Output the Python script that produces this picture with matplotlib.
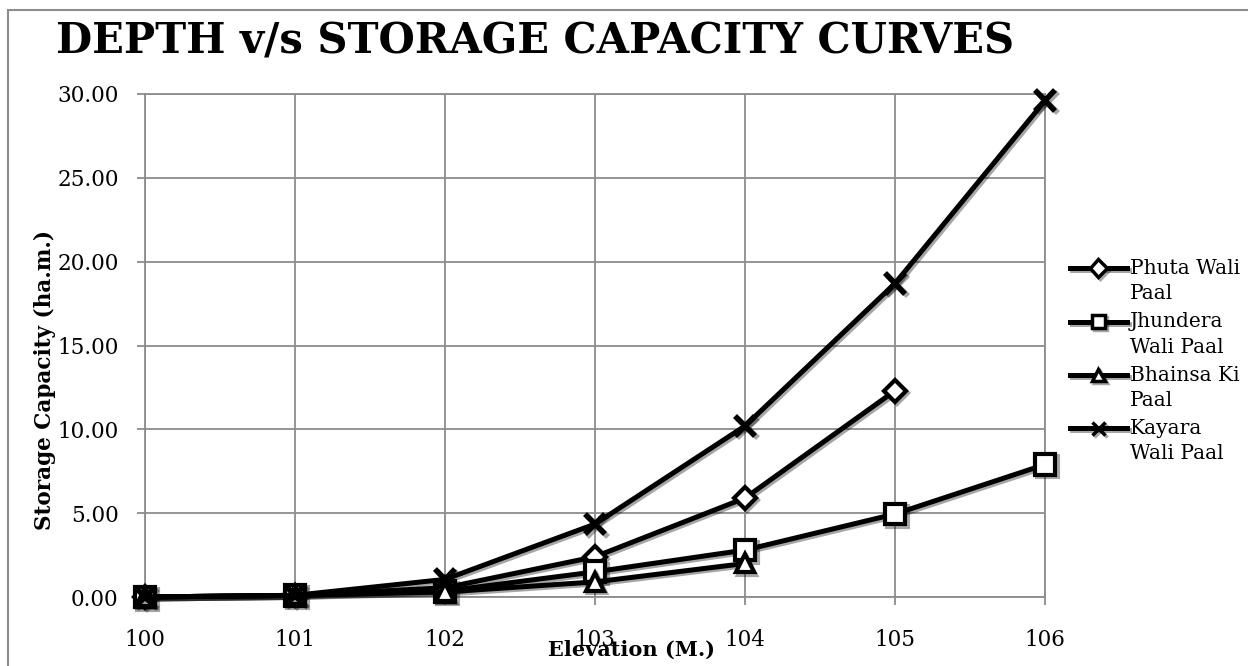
import numpy as np
import matplotlib
matplotlib.use("Agg")
import matplotlib.pyplot as plt
import matplotlib.patheffects as pe
from matplotlib.patches import Rectangle
from matplotlib.ticker import FormatStrFormatter
from matplotlib.legend_handler import HandlerLine2D

elevation = [100, 101, 102, 103, 104, 105, 106]
phuta = [0.0, 0.1, 0.55, 2.4, 5.9, 12.3]
jhundera = [0.0, 0.1, 0.35, 1.5, 2.8, 4.95, 7.9]
bhainsa = [0.0, 0.1, 0.3, 0.9, 2.0]
kayara = [0.0, 0.1, 1.05, 4.35, 10.2, 18.7, 29.6]

series = [
    ("Phuta Wali\nPaal", phuta, "D", 11),
    ("Jhundera\nWali Paal", jhundera, "s", 15),
    ("Bhainsa Ki\nPaal", bhainsa, "^", 13),
    ("Kayara\nWali Paal", kayara, "x", 15),
]


# legend handle sits on the first text line, not in the middle
class TopHandler(HandlerLine2D):
    def create_artists(self, legend, orig_handle, xdescent, ydescent,
                       width, height, fontsize, trans):
        arts = super().create_artists(legend, orig_handle, xdescent, ydescent,
                                      width, height, fontsize, trans)
        for a in arts:
            a.set_ydata(np.asarray(a.get_ydata()) + 0.66 * fontsize)
        return arts


plt.rcParams['font.family'] = ['DejaVu Serif']

fig = plt.figure(figsize=(12.48, 6.66), dpi=100)
ax = fig.add_axes([145/1248, 1 - 597/666, 900/1248, 503/666])

shadow = [pe.SimpleLineShadow(offset=(1.5, -1.5), alpha=0.35), pe.Normal()]
lines = []
for label, vals, mk, ms in series:
    x = elevation[:len(vals)]
    mew = 4 if mk == "x" else 3
    ln, = ax.plot(x, vals, color="black", linewidth=3.6, marker=mk, markersize=ms,
                  markerfacecolor="white", markeredgecolor="black", markeredgewidth=mew,
                  label=label, path_effects=shadow, clip_on=False, zorder=3)
    lines.append(ln)

ax.set_xlim(100, 106)
ax.set_ylim(0, 30)
ax.set_xticks(elevation)
ax.set_yticks(np.arange(0, 31, 5))
ax.yaxis.set_major_formatter(FormatStrFormatter('%.2f'))
ax.grid(True, color="#8c8c8c", linewidth=1.3)
ax.set_axisbelow(True)
for s in ax.spines.values():
    s.set_color("#8c8c8c")
    s.set_linewidth(1.3)
ax.tick_params(axis="both", length=6, width=1.3, color="#8c8c8c", labelsize=15.5)
ax.tick_params(axis="x", pad=17)
ax.tick_params(axis="y", pad=13)

ax.set_xlabel("Elevation (M.)", fontsize=15, fontweight="bold")
ax.xaxis.set_label_coords((631 - 145) / 900, -(650 - 597) / 503)
ax.xaxis.label.set_va("center")
ax.set_ylabel("Storage Capacity (ha.m.)", fontsize=15.5, fontweight="bold")
ax.yaxis.set_label_coords(-(145 - 45) / 900, (597 - 380) / 503)
ax.yaxis.label.set_va("center")

fig.text(535/1248, 1 - 42/666, "DEPTH v/s STORAGE CAPACITY CURVES", ha="center",
         va="center", fontsize=30, fontweight="bold")

leg = ax.legend(handles=lines, loc="upper left", bbox_to_anchor=(1.028, 0.672),
                frameon=False, fontsize=14.5, handlelength=2.8, handletextpad=0.15,
                labelspacing=0.45, borderaxespad=0, borderpad=0,
                handler_map={ln: TopHandler() for ln in lines})
for t in leg.get_texts():
    t.set_linespacing(1.42)
for h in leg.legend_handles:
    h.set_markersize(9)
    h.set_markeredgewidth(2.5)

fig.patches.append(Rectangle((8/1248, -0.1), 1.1, 1.1 - 10/666, transform=fig.transFigure,
                             fill=False, edgecolor="#8c8c8c", linewidth=1.5))

fig.savefig("out.png", dpi=100)
